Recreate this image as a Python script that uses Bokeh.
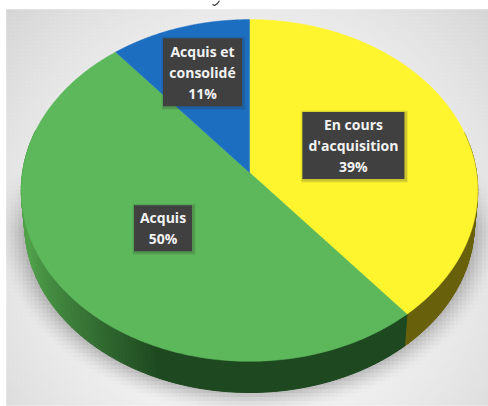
import numpy as np
from bokeh.plotting import figure
from bokeh.core.properties import value
from bokeh.embed import file_html
from bokeh.resources import INLINE

# Data
categories = ["En cours\nd'acquisition", "Acquis", "Acquis et\nconsolidé"]
shares = [39, 50, 11]
colors = ["#FFF52E", "#5CB85A", "#1C6EC0"]
side_light = [(112, 104, 14), (80, 160, 74), (20, 80, 150)]
side_dark = [(104, 96, 10), (30, 72, 32), (20, 80, 150)]

# Layout
W, H = 488, 406
CX, CY = 249, 172
A, B, K = 227, 169, 0.105
DEPTH, SCALE = 34, 0.985
label_r = [0.5, 0.5, 0.68]
label_dx = [-1, 4, 2]
label_dy = [1, 0, 1]
box_w = [102, 58, 79]
box_h = [67, 46, 68]
LINE = 21
CELL = 4


def project(theta, r=1.0, dy=0.0, s=1.0):
    u, v = r * np.sin(theta), r * np.cos(theta)
    w = 1 + K * v
    return CX + s * A * u / w, CY + dy - s * B * v / w


p = figure(width=W, height=H, x_range=(0, W), y_range=(H, 0),
           output_backend="svg", toolbar_location=None, min_border=0,
           background_fill_color="white", outline_line_color=None)
p.axis.visible = False
p.grid.visible = False

# Background panel: soft gradient, with the pie's drop shadow
xe = np.arange(6, W + CELL, CELL)
ye = np.arange(9, 405 + CELL, CELL)
L, T = np.meshgrid(xe[:-1], ye[:-1])
R, Bt = L + CELL, T + CELL
X, Y = L + CELL / 2, T + CELL / 2
d2 = ((X - 250) / 320) ** 2 + ((Y - 240) / 340) ** 2
g = 250 - 36 * np.clip(d2, 0, 1.4)
ell = np.sqrt(((X - 249) / 224) ** 2 + ((Y - 224) / 168) ** 2)
fade = np.clip((Y - 170) / 60, 0, 1)
shadow = np.clip(1 - (ell - 1) / 0.13, 0, 1) ** 1.6 * fade
g = (g - 60 * shadow).astype(int)
cols = ["#%02x%02x%02x" % (v, v, v) for v in g.ravel()]
p.quad(left=L.ravel(), right=np.minimum(R.ravel(), W), top=T.ravel(), bottom=np.minimum(Bt.ravel(), 405),
       fill_color=cols, line_color=cols, line_width=0.5)

# Cropped stroke of the caption above the picture
p.line([219, 217, 214, 212], [0, 3, 5, 4], line_color="#333333", line_width=1.2)

# Slice boundaries from the shares, clockwise from 12 o'clock
fracs = np.cumsum([0] + shares) / sum(shares)
angles = 2 * np.pi * fracs

# Side wall, drawn as narrow strips with a horizontal shade
for i in range(len(shares)):
    a0, a1 = angles[i], angles[i + 1]
    n = max(2, int((a1 - a0) / 0.02))
    th = np.linspace(a0, a1, n + 1)
    sx, sy, sc = [], [], []
    for t0, t1 in zip(th[:-1], th[1:]):
        if np.cos((t0 + t1) / 2) > 0.25:
            continue
        x0, y0 = project(t0)
        x1, y1 = project(t1)
        x2, y2 = project(t1, dy=DEPTH, s=SCALE)
        x3, y3 = project(t0, dy=DEPTH, s=SCALE)
        sx.append([x0, x1, x2, x3])
        sy.append([y0, y1, y2, y3])
        f = np.clip(((x0 + x1) / 2 - 29) / 130, 0, 1) ** 0.8
        c = [int(side_light[i][j] + (side_dark[i][j] - side_light[i][j]) * f) for j in range(3)]
        sc.append("#%02x%02x%02x" % tuple(c))
    if sx:
        p.patches(sx, sy, fill_color=sc, line_color=sc, line_width=1)

# Top faces
for i in range(len(shares)):
    th = np.linspace(angles[i], angles[i + 1], 160)
    ex, ey = project(th)
    p.patch(np.r_[CX, ex], np.r_[CY, ey], fill_color=colors[i], line_color=colors[i], line_width=0.5)

# Labels
for i, cat in enumerate(categories):
    mid = (angles[i] + angles[i + 1]) / 2
    lx, ly = project(mid, r=label_r[i])
    lx, ly = lx + label_dx[i], ly + label_dy[i]
    for grow, alpha in ((5, 0.10), (3, 0.16)):
        p.rect(lx + 1, ly + 1, width=box_w[i] + grow, height=box_h[i] + grow,
               fill_color="#333333", fill_alpha=alpha, line_color=None)
    p.rect(lx, ly, width=box_w[i], height=box_h[i], fill_color="#404040", line_color=None)
    lines = cat.split("\n") + [f"{shares[i]}%"]
    for j, t in enumerate(lines):
        p.text([lx], [ly + (j - (len(lines) - 1) / 2) * LINE], text=[t],
               text_align="center", text_baseline="middle",
               text_color="#F2F2F2", text_font=value("Open Sans"),
               text_font_style="bold", text_font_size="14px")

open("out.html", "w").write(file_html(p, INLINE))
